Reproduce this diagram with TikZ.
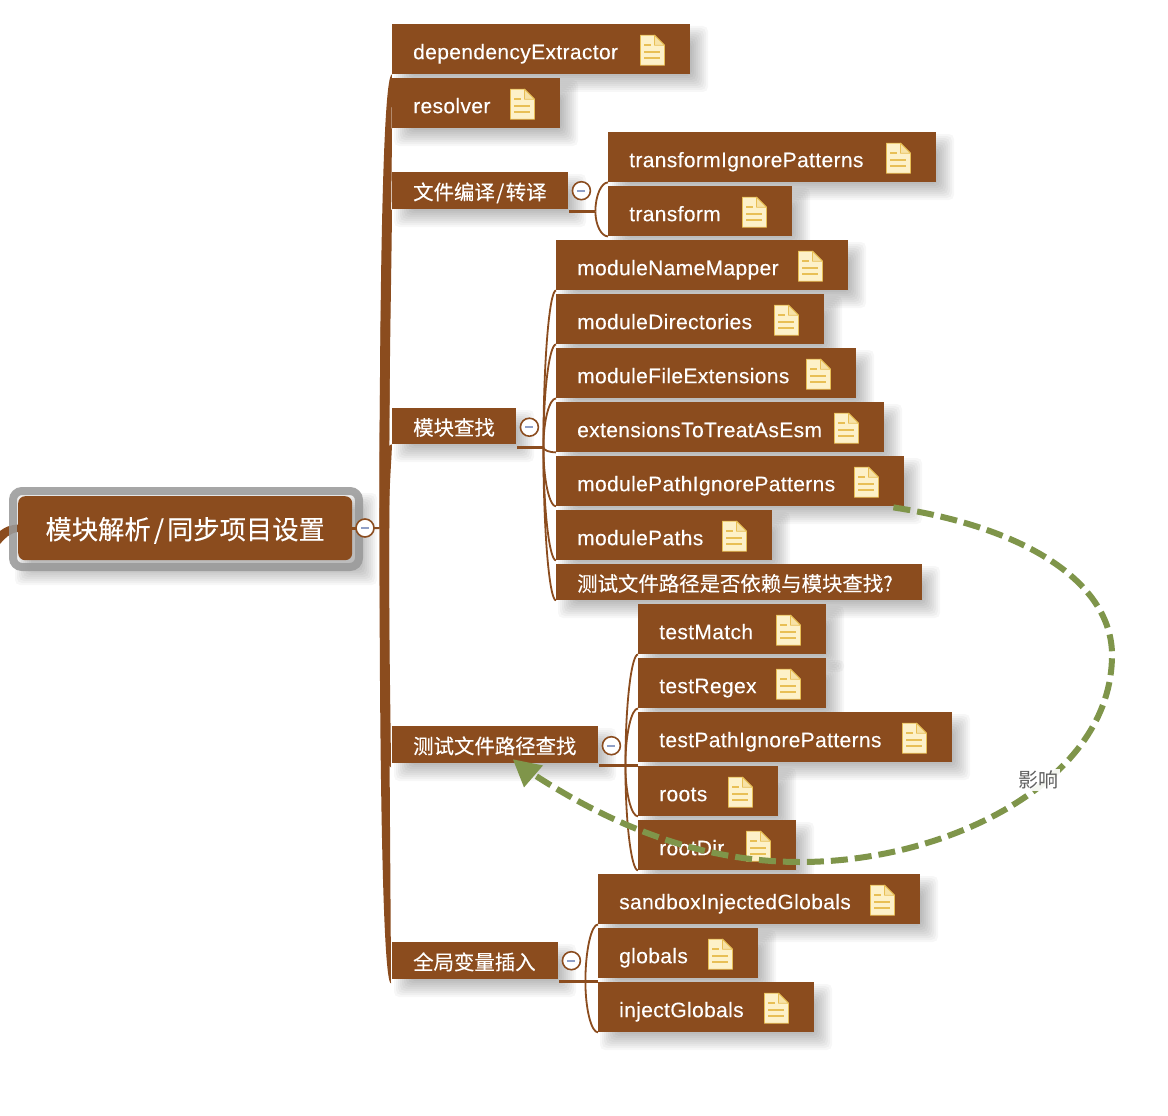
\documentclass[tikz,border=0pt]{standalone}
\usepackage{fontspec}
\setmainfont[LetterSpace=1.7,FakeBold=0.15]{Liberation Sans}
\newfontfamily\cjk[FakeBold=0.2]{Noto Sans CJK SC}
\newfontfamily\cjkplain{Noto Sans CJK SC}
\usetikzlibrary{calc}
\definecolor{brownfill}{HTML}{8B4C1E}
\definecolor{docfill}{HTML}{FDF1C9}
\definecolor{docline}{HTML}{E8BF55}
\definecolor{minusbar}{HTML}{8F9FC6}
\definecolor{linkgreen}{HTML}{7F954A}
\definecolor{rimgray}{HTML}{9A9A9A}
\tikzset{
  topicbox/.style={fill=brownfill,text=white,anchor=north west,inner xsep=21pt,inner ysep=0pt,align=left,font=\fontsize{21}{24}\selectfont},
  rootbox/.style={fill=brownfill,text=white,rounded corners=7pt,anchor=north west,inner sep=0pt,align=center,font=\cjk\fontsize{26.3}{30}\selectfont},
  expander/.style={circle,draw=brownfill,line width=1.6pt,fill=white,inner sep=0pt,minimum size=18pt},
  minusmark/.style={draw=minusbar,line width=1.6pt},
  thinlink/.style={draw=brownfill,line width=1.8pt},
  parentlink/.style={draw=brownfill,line width=2.4pt},
  trunkfill/.style={fill=brownfill},
  softshadow/.style={fill=black,opacity=.03,rounded corners=5pt},
  pics/docicon/.style={code={
    \draw[draw=docline,fill=docfill,line width=.8pt,line join=round] (-12,-15) -- (2,-15) -- (12,-5) -- (12,15) -- (-12,15) -- cycle;
    \draw[draw=docline,fill=docfill!70!docline,line width=.8pt,line join=round] (2,-15) -- (2,-5) -- (12,-5) -- cycle;
    \draw[draw=docline,line width=1.6pt] (-8,-5) -- (-1,-5) (-8,2) -- (8,2) (-8,8) -- (8,8);
  }}
}
\newcommand{\zh}[1]{\raisebox{1pt}{\cjk\fontsize{20.4}{24}\selectfont #1}}
\newcommand{\softshade}[4]{%
  \foreach \k in {-8,-6,...,8}{\fill[softshadow] ({#1+10-\k},{#2+10-\k}) rectangle ({#3+10+\k},{#4+10+\k});}}
\newcommand{\topic}[6]{%
  \softshade{#2}{#3}{#4}{#5}%
  \pgfmathsetmacro\bw{#4-#2}\pgfmathsetmacro\bh{#5-#3}\pgfmathsetmacro\tw{#4-#2-42}%
  \node[topicbox,minimum width=\bw pt,minimum height=\bh pt,text width=\tw pt] (#1) at (#2,#3) {\rule[-2pt]{0pt}{24pt}\smash{#6}};}
\newcommand{\topicdoc}[6]{%
  \topic{#1}{#2}{#3}{#4}{#5}{#6}%
  \pic at ($(#1.east)+(-38,1)$) {docicon};}
\newcommand{\collapse}[2]{%
  \node[expander] (#1) at #2 {};
  \draw[minusmark] ($(#1.center)+(-4,0)$) -- ($(#1.center)+(4,0)$);}
% #1 target node, #2 offset of the tip from its south west corner
\newcommand{\trunkto}[2]{%
  \coordinate (tiptmp) at ($(#1.south west)+#2$);
  \fill[trunkfill] (hubl) .. controls ($(hubl)!.5!(hubl|-tiptmp)$) and ($(hubl|-tiptmp)+(3,0)$) .. (tiptmp)
    .. controls ($(tiptmp)!.25!(hubr)$) and ($(hubr)!.5!(hubr|-tiptmp)$) .. (hubr) -- cycle;}
\newcommand{\forkto}[2]{%
  \draw[thinlink] (#1) .. controls ($(#1)!.55!(#1|-#2.south west)$) and ($(#1|-#2.south west)+(6,0)$) .. (#2.south west);}
\begin{document}
\begin{tikzpicture}[x=1pt,y=-1pt]
\useasboundingbox (0,0) rectangle (1168,1116);
\fill[white] (0,0) rectangle (1168,1116);
% root
\fill[brownfill] (0,531) .. controls (5,527) and (10,525) .. (18,524.5) -- (18,532) .. controls (10,533) and (5,538) .. (0,544) -- cycle;
\softshade{13}{491}{359}{567}
\draw[rimgray,opacity=.88,line width=8pt,rounded corners=9pt] (13,491) rectangle (359,567);
\node[rootbox,minimum width=334pt,minimum height=64pt] (root) at (18,496) {\rule[-2pt]{0pt}{26pt}\smash{模块解析\hspace{3pt}/\hspace{3pt}同步项目设置}};
% first level and children
\topicdoc{dep}{392}{24}{690}{74}{dependencyExtractor}
\topicdoc{res}{392}{78}{560}{128}{resolver}
\topicdoc{tip}{608}{132}{936}{182}{transformIgnorePatterns}
\topicdoc{tfm}{608}{186}{792}{236}{transform}
\topic{cmp}{392}{172}{568}{209}{\zh{文件编译\hspace{1.5pt}/\hspace{1.5pt}转译}}
\topicdoc{mnm}{556}{240}{848}{290}{moduleNameMapper}
\topicdoc{mdr}{556}{294}{824}{344}{moduleDirectories}
\topicdoc{mfe}{556}{348}{856}{398}{moduleFileExtensions}
\topicdoc{ete}{556}{402}{884}{452}{extensionsToTreatAsEsm}
\topic{find}{392}{408}{516}{444}{\zh{模块查找}}
\topicdoc{mpi}{556}{456}{904}{506}{modulePathIgnorePatterns}
\topicdoc{mps}{556}{510}{772}{560}{modulePaths}
\topic{ask}{556}{564}{922}{600}{\zh{测试文件路径是否依赖与模块查找?}}
\topicdoc{tma}{638}{604}{826}{654}{testMatch}
\topicdoc{tre}{638}{658}{826}{708}{testRegex}
\topicdoc{tpi}{638}{712}{952}{762}{testPathIgnorePatterns}
\topic{tpf}{392}{726}{598}{763}{\zh{测试文件路径查找}}
\topicdoc{rts}{638}{766}{778}{816}{roots}
\topicdoc{rtd}{638}{820}{796}{870}{rootDir}
\topicdoc{sig}{598}{874}{920}{924}{sandboxInjectedGlobals}
\topicdoc{glb}{598}{928}{758}{978}{globals}
\topic{gvi}{392}{942}{558}{979}{\zh{全局变量插入}}
\topicdoc{igl}{598}{982}{814}{1032}{injectGlobals}
% trunk
\coordinate (hubl) at (379.5,528);
\coordinate (hubr) at (389,528);
\draw[brownfill,line width=3pt] (root.east) -- ++(6,0);
\draw[brownfill,line width=2pt] (root.east) -- (hubl);
\trunkto{dep}{(0,0)}\trunkto{res}{(0,0)}\trunkto{cmp}{(0,0)}\trunkto{find}{(0,0)}\trunkto{tpf}{(-1,4)}\trunkto{gvi}{(-1,4)}
\collapse{xroot}{(365,528)}
% second level forks
\coordinate (f1) at ($(cmp.south east)+(27,2)$);
\draw[parentlink] ($(cmp.south east)+(1,2)$) -- (f1);
\forkto{f1}{tip}\forkto{f1}{tfm}
\collapse{x1}{($(cmp.east)+(13,0)$)}
\coordinate (f2) at ($(find.south east)+(27,3)$);
\draw[parentlink] ($(find.south east)+(1,3)$) -- (f2);
\forkto{f2}{mnm}\forkto{f2}{mdr}\forkto{f2}{mfe}\forkto{f2}{ete}\forkto{f2}{mpi}\forkto{f2}{mps}\forkto{f2}{ask}
\collapse{x2}{($(find.east)+(13,1)$)}
\coordinate (f3) at ($(tpf.south east)+(27,2)$);
\draw[parentlink] ($(tpf.south east)+(1,2)$) -- (f3) -- ($(tpf.south east)+(40,2)$);
\forkto{f3}{tma}\forkto{f3}{tre}\forkto{f3}{rts}\forkto{f3}{rtd}
\collapse{x3}{($(tpf.east)+(13,1)$)}
\coordinate (f4) at ($(gvi.south east)+(27,2)$);
\draw[parentlink] ($(gvi.south east)+(1,2)$) -- (f4) -- ($(gvi.south east)+(40,2)$);
\forkto{f4}{sig}\forkto{f4}{igl}
\collapse{x4}{($(gvi.east)+(13,0)$)}
% relation
\coordinate (linkfrom) at ($(mpi.south east)+(-11,1)$);
\coordinate (linktip) at ($(tpf.south west)+(121,-4)$);
\coordinate (linkto) at ($(tpf.south west)+(137,8)$);
\draw[linkgreen,line width=6pt,dash pattern=on 17pt off 7pt] (linkfrom) .. controls (1040,530) and (1112,590) .. (1112,655) .. controls (1112,780) and (950,862) .. (800,862) .. controls (700,862) and (610,825) .. (linkto);
\fill[linkgreen] (linktip) -- ($(linktip)+(30,6)$) -- ($(linktip)+(11,28)$) -- cycle;
\node[fill=white,fill opacity=.92,text opacity=1,text=black!62,inner sep=2pt,font=\cjkplain\fontsize{20}{22}\selectfont] (lbl) at (1038,780) {影响};
\end{tikzpicture}
\end{document}
